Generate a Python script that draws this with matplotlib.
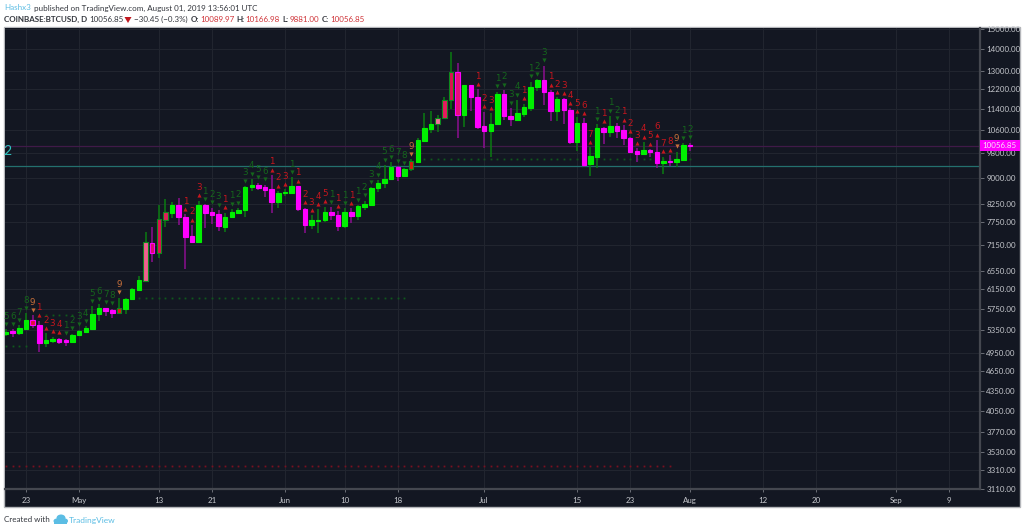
import matplotlib
matplotlib.use("Agg")
import matplotlib.dates as mdates
import matplotlib.pyplot as plt
from matplotlib.patches import Ellipse, Polygon, Rectangle
from matplotlib.transforms import offset_copy
import pandas as pd

plt.rcParams["font.family"] = ["Lato", "DejaVu Sans"]

# ==========================================
# DATA
# ==========================================
START_DAY = "2019-04-20"

open_ = [
    5282, 5328, 5292, 5370, 5532, 5445, 5119, 5154, 5184, 5171, 5143,
    5256, 5310, 5370, 5648, 5771, 5739, 5681, 5745, 5946, 6137, 6330, 7211, 6968, 7812, 7983, 8214, 7875, 7379, 7245,
    8197, 8002, 7948, 7610, 7866, 7983, 8065, 8727, 8778, 8718, 8658, 8281,
    8550, 8550, 8748, 8102, 7662, 7775, 7793, 8011, 7937, 7628, 8019, 7902, 8158, 8214, 8688, 8839, 8959, 9346, 9062,
    9272, 9517, 10226, 10634, 10829, 11043, 11744, 12926, 11157, 12364, 11879,
    10755, 10583, 10829, 11989, 11141, 10977, 11219, 11451, 12292, 12588, 12095, 11322, 11797, 11360, 10181, 10855,
    9433, 9682, 10671, 10534, 10767, 10597, 10332, 9862, 9762, 9905, 9838, 9475, 9549, 9498, 9572, 10089.97,
]
high = [
    5364, 5364, 5439, 5667, 5629, 5519, 5292, 5225, 5215, 5197, 5287,
    5359, 5420, 5805, 5845, 5771, 5759, 5981, 5981, 6189, 6433, 7480, 7602, 8205, 8366, 8297, 8404, 7948, 7662, 8326,
    8225, 8130, 8065, 7992, 8093, 8121, 8757, 8969, 8857, 8796, 9092, 8608,
    8658, 9022, 8757, 8130, 7921, 8085, 8158, 8141, 8030, 8113, 8113, 8205, 8326, 8718, 8938, 9410, 9498, 9378, 9304,
    9595, 10311, 11234, 11322, 11169, 11879, 13878, 13359, 12376, 12364, 12194,
    11295, 11234, 12095, 12165, 11439, 11756, 11598, 12516, 12619, 13209, 12165, 11867, 11825, 11427, 11103, 11042,
    9998, 10816, 10730, 11130, 10855, 10792, 10368, 9964, 10181, 9939, 10250, 9682, 9738, 9847, 10135, 10166.98,
]
low = [
    5246, 5220, 5256, 5365, 5383, 4963, 5044, 5119, 5096, 5074, 5131,
    5256, 5310, 5359, 5519, 5615, 5571, 5681, 5648, 5925, 6117, 6324, 6765, 6859, 7617, 7839, 7662, 6605, 7228, 7228,
    7576, 7680, 7506, 7480, 7839, 7964, 7883, 8617, 8637, 8442, 7992, 8113,
    8462, 8541, 8046, 7447, 7565, 7462, 7733, 7793, 7506, 7576, 7706, 7793, 8065, 8197, 8579, 8688, 8938, 8917, 9062,
    9227, 9498, 10215, 10511, 10545, 11004, 11388, 10310, 10726, 11332, 10634,
    9964, 9663, 10803, 10977, 10755, 10977, 11081, 11332, 12136, 11558, 10940, 10940, 10829, 10112, 9872, 9356,
    9062, 9304, 10112, 10368, 10310, 10088, 9795, 9517, 9738, 9662, 9304, 9125, 9378, 9356, 9549, 9881.00,
]
close = [
    5319, 5301, 5383, 5532, 5439, 5119, 5171, 5184, 5143, 5143, 5269,
    5328, 5389, 5648, 5771, 5706, 5681, 5765, 5946, 6152, 6345, 7228, 6968, 7820, 8002, 8214, 7866, 7361, 7245, 8197,
    7983, 7929, 7628, 7875, 8002, 8065, 8737, 8778, 8706, 8646, 8281, 8550,
    8588, 8748, 8085, 7662, 7793, 7812, 8011, 7921, 7628, 8019, 7910, 8177, 8242, 8697, 8857, 8969, 9346, 9062, 9272,
    9530, 10250, 10671, 10829, 11054, 11744, 12926, 11157, 12376, 11879, 10730,
    10583, 10829, 11989, 11130, 11015, 11234, 11467, 12304, 12588, 12071, 11322, 11797, 11348, 10171, 10855, 9410,
    9705, 10671, 10523, 10755, 10561, 10322, 9828, 9782, 9895, 9847, 9475, 9549, 9517, 9595, 10087, 10056.85,
]

# TD count above each bar, 0 = no mark. g = green, r = red, o = orange, . = none
td_count = [
    5, 6, 7, 8, 9, 1, 2, 3, 4, 1, 2,
    3, 4, 5, 6, 7, 8, 9, 0, 0, 0, 0, 0, 0, 0, 0, 0, 1, 2, 3,
    1, 2, 3, 1, 1, 2, 3, 4, 5, 6, 1, 2,
    3, 1, 1, 2, 3, 4, 5, 1, 1, 1, 1, 1, 2, 3, 4, 5, 6, 7, 8,
    9, 0, 0, 0, 0, 0, 0, 0, 0, 0, 1,
    2, 3, 1, 2, 3, 4, 1, 1, 2, 3, 1, 2, 3, 4, 5, 6,
    7, 1, 1, 1, 2, 1, 2, 3, 4, 5, 6, 7, 8, 9, 1, 2,
]
td_kind = (
    "ggggorrrrgg"
    "ggggggo.........rrr"
    "gggrggggggrr"
    "rgrrrrrgrgrgggggggg"
    "o.........r"
    "rrggggrgggrrrrrr"
    "rgrggrrrrrrrrogg"
)

ytick_values = [15000, 14000, 13000, 12200, 11400, 10600, 9800, 9000, 8250, 7750, 7150, 6550,
                6150, 5750, 5350, 4950, 4650, 4350, 4050, 3770, 3530, 3310, 3110]
xtick_days = ["2019-04-23", "2019-05-01", "2019-05-13", "2019-05-21", "2019-06-01", "2019-06-10", "2019-06-18",
              "2019-07-01", "2019-07-15", "2019-07-23", "2019-08-01", "2019-08-12", "2019-08-20", "2019-09-01",
              "2019-09-09"]
xtick_labels = ["23", "May", "13", "21", "Jun", "10", "18", "Jul", "15", "23", "Aug", "12", "20", "Sep", "9"]

last_price = 10056.85
teal_level = 9390

# dotted levels: price, first day, last day, colour
dotted_levels = [
    (5074, "2019-04-20", "2019-04-23", "#0f5a1c"),
    (5629, "2019-04-26", "2019-04-30", "#0f5a1c"),
    (5972, "2019-05-10", "2019-06-19", "#0f5a1c"),
    (9605, "2019-06-22", "2019-08-01", "#0f5a1c"),
    (3355, "2019-04-20", "2019-07-29", "#7a1020"),
]

# bars with a special fill: index from START_DAY -> (fill, edge)
GREEN_EDGE = "#0c8a1e"
special_bars = {
    4: ("#e0103c", "#ff00ff"),
    17: ("#e01a10", GREEN_EDGE),
    21: ("#f0608f", GREEN_EDGE),
    22: ("#d8106a", "#ff00ff"),
    23: ("#e01050", GREEN_EDGE),
    24: ("#e0205a", GREEN_EDGE),
    61: ("#d81a10", GREEN_EDGE),
    65: ("#f0709a", GREEN_EDGE),
    66: ("#e81a60", GREEN_EDGE),
    67: ("#e01050", GREEN_EDGE),
    68: ("#e81078", "#ff00ff"),
}

BG = "#131722"
GRID = "#21252f"
AXIS = "#44474f"
BLUE = "#5bbde4"
RED = "#cf3338"
TEXT = "#33363d"
TICK_TEXT = "#c6c8cd"
W, H = 1024, 531

# ==========================================
# CANVAS: pixel-coordinate layer behind the chart
# ==========================================
fig = plt.figure(figsize=(W / 100, H / 100), dpi=100, facecolor="white")
page = fig.add_axes([0, 0, 1, 1])
page.set_xlim(0, W)
page.set_ylim(H, 0)
page.axis("off")
page.add_patch(Rectangle((4, 27), 1015.5, 480, facecolor=BG, edgecolor="#b4b6ba", linewidth=1))

left, right, top, bottom = 4.5, 980, 28, 489
ax = fig.add_axes([left / W, 1 - bottom / H, (right - left) / W, (bottom - top) / H])
ax.set_facecolor(BG)
ax.set_yscale("log")
ax.set_ylim(3106, 15045)

days = mdates.date2num(pd.date_range(START_DAY, periods=len(close), freq="D"))
first_tick = mdates.date2num(pd.Timestamp("2019-04-23"))
ax.set_xlim(first_tick - 21.5 / 6.64, first_tick + 954 / 6.64)

# axes, ticks and grid
for name in ("top", "left"):
    ax.spines[name].set_visible(False)
ax.spines["right"].set_color(AXIS)
ax.spines["right"].set_linewidth(1.6)
ax.spines["bottom"].set_color(AXIS)
ax.spines["bottom"].set_linewidth(1.6)

ax.yaxis.tick_right()
ax.set_yticks(ytick_values)
ax.set_yticklabels([f"{v:.2f}" for v in ytick_values])
ax.minorticks_off()
ax.set_xticks(mdates.date2num(pd.to_datetime(xtick_days)))
ax.set_xticklabels(xtick_labels)
ax.tick_params(axis="y", colors=TICK_TEXT, labelsize=5.7, length=3, width=0.7, pad=1.5, color="#6b6e76")
ax.tick_params(axis="x", colors=TICK_TEXT, labelsize=5.7, length=2.5, width=0.7, pad=3, color="#6b6e76")
ax.grid(True, color=GRID, linewidth=0.8)
ax.set_axisbelow(True)

# levels
ax.axhline(last_price, color="#401a48", linewidth=0.9, zorder=1.5)
ax.axhline(teal_level, color="#23706e", linewidth=0.9, zorder=1.5)
for price, first, last, color in dotted_levels:
    level_days = mdates.date2num(pd.date_range(first, last, freq="D"))
    ax.plot(level_days, [price] * len(level_days), linestyle="none", marker="s", markersize=1.3,
            markeredgewidth=0, color=color, zorder=1.6)

# candles
for i, day in enumerate(days):
    is_up = close[i] >= open_[i]
    fill, edge = special_bars.get(i, ("#00f000" if is_up else "#ff00ff", "#00f000" if is_up else "#ff00ff"))
    ax.vlines(day, low[i], high[i], color="#0b7c12" if is_up else "#8c0f90", linewidth=1.1, zorder=2)
    ax.bar(day, abs(close[i] - open_[i]), bottom=min(open_[i], close[i]), width=0.68,
           facecolor=fill, edgecolor=edge, linewidth=0.8, zorder=3)

# TD sequential marks, offset from the bar high
kind_color = {"g": "#15661c", "r": "#c6161e", "o": "#c8703a"}
kind_marker = {"g": "v", "r": "^", "o": "v"}
mark_transform = offset_copy(ax.transData, fig=fig, y=4.0, units="points")
for i, count in enumerate(td_count):
    if count == 0:
        continue
    kind = td_kind[i]
    ax.plot(days[i], high[i], marker=kind_marker[kind], markersize=3, markeredgewidth=0,
            color=kind_color[kind], transform=mark_transform, zorder=4)
    ax.annotate(str(count), (days[i], high[i]), xytext=(0, 9.5), textcoords="offset points", ha="center",
                va="center", fontsize=6.3, family="DejaVu Sans", color=kind_color[kind], zorder=4)

# ==========================================
# TEXT ROUND THE CHART
# ==========================================
over = fig.add_axes([0, 0, 1, 1])
over.set_xlim(0, W)
over.set_ylim(H, 0)
over.axis("off")
over.patch.set_alpha(0)


def put(x, y, text, color=TEXT, weight="normal", size=5.8, ha="left"):
    over.text(x, y, text, color=color, fontweight=weight, fontsize=size, ha=ha, va="center")


put(4, 8, "Hashx3", color=BLUE)
put(33.5, 8, "published on TradingView.com, August 01, 2019 13:56:01 UTC")
put(4, 19.5, "COINBASE:BTCUSD, D", weight="bold", size=5.8)
put(89, 19.5, "10056.85")
over.add_patch(Polygon([[124.5, 17], [131.5, 17], [128, 23]], facecolor="#c01820", edgecolor="none"))
put(133.5, 19.5, "\u221230.45 (\u22120.3%)")
for label_x, label, value_x, value in [
    (191, "O:", 200, "10089.97"),
    (236.5, "H:", 245, "10166.98"),
    (282.5, "L:", 290, "9881.00"),
    (322, "C:", 330, "10056.85"),
]:
    put(label_x, 19.5, label, weight="bold", size=5.8)
    put(value_x, 19.5, value, color=RED)

# left edge label and last price tag
put(3.5, 151, "2", color="#2fc4c0", size=10)
over.add_patch(Rectangle((980, 140), 39.5, 11, facecolor="#ff00ff", edgecolor="none"))
put(999.5, 145.5, f"{last_price:.2f}", color="#f8e4f8", size=5.7, ha="center")

# footer with the cloud logo
put(4, 520, "Created with")
for cx, cy, w, h in [(57, 521, 7, 5), (61, 518, 9, 7), (65, 521, 6, 5)]:
    over.add_patch(Ellipse((cx, cy), w, h, facecolor=BLUE, edgecolor="none"))
over.add_patch(Rectangle((54, 521), 13, 2.5, facecolor=BLUE, edgecolor="none"))
put(68.5, 520, "TradingView", color=BLUE, size=6)

fig.savefig("out.png", dpi=100)
